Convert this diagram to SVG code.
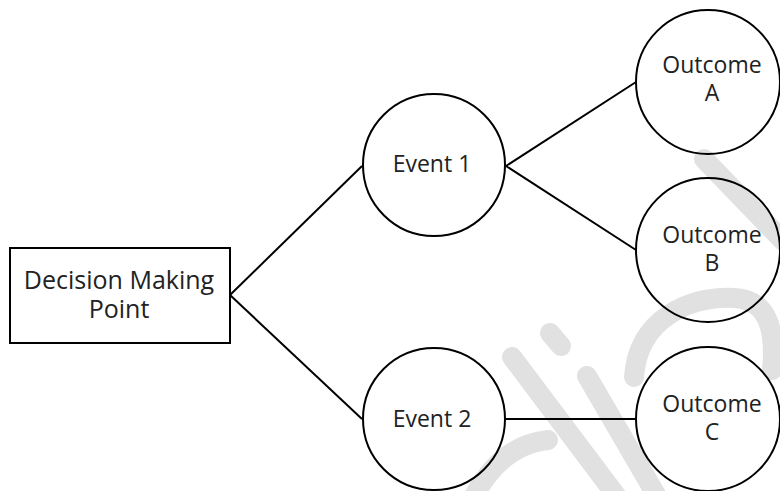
<svg xmlns="http://www.w3.org/2000/svg" width="780" height="491" viewBox="0 0 780 491">
  <style>
    .shape { fill: none; stroke: #000; stroke-width: 2; }
    .link { fill: none; stroke: #000; stroke-width: 2; }
    .label { font-family: "Open Sans", "Liberation Sans", sans-serif; font-size: 23px; fill: #222; text-anchor: middle; }
    .big { font-size: 25px; }
    .mark { fill: none; stroke: #e1e1e1; stroke-width: 20; stroke-linecap: round; stroke-linejoin: round; }
  </style>
  <rect width="780" height="491" fill="#fff"/>

  <!-- faint background logo strokes -->
  <g id="backdrop">
    <path class="mark" d="M550,333 L561,346"/>
    <path class="mark" d="M512,357 L618,498"/>
    <path class="mark" d="M472,500 Q500,445 548,440"/>
    <path class="mark" d="M587,376 L658,498"/>
    <path class="mark" d="M634,377 C638,318 690,296 735,298 C768,300 776,330 772,370"/>
    <path class="mark" d="M704,159 L790,248"/>
  </g>

  <g id="connectors">
    <line class="link" x1="230" y1="295" x2="362" y2="166"/>
    <line class="link" x1="230" y1="295" x2="362" y2="419"/>
    <line class="link" x1="506" y1="166" x2="636" y2="82"/>
    <line class="link" x1="506" y1="166" x2="636" y2="250"/>
    <line class="link" x1="506" y1="419" x2="636" y2="419"/>
  </g>

  <g id="decision">
    <rect class="shape" x="10" y="248" width="220" height="95"/>
    <text class="label big" x="119" y="289">Decision Making</text>
    <text class="label big" x="119" y="318">Point</text>
  </g>

  <g id="event1">
    <circle class="shape" cx="434" cy="165" r="71"/>
    <text class="label" x="432" y="172">Event 1</text>
  </g>

  <g id="event2">
    <circle class="shape" cx="434" cy="419" r="71"/>
    <text class="label" x="432" y="427">Event 2</text>
  </g>

  <g id="outcomeA">
    <circle class="shape" cx="708" cy="82" r="72"/>
    <text class="label" x="712" y="73">Outcome</text>
    <text class="label" x="712" y="101">A</text>
  </g>

  <g id="outcomeB">
    <circle class="shape" cx="708" cy="250" r="72"/>
    <text class="label" x="712" y="243">Outcome</text>
    <text class="label" x="712" y="271">B</text>
  </g>

  <g id="outcomeC">
    <circle class="shape" cx="708" cy="419" r="72"/>
    <text class="label" x="712" y="412">Outcome</text>
    <text class="label" x="712" y="440">C</text>
  </g>
</svg>
